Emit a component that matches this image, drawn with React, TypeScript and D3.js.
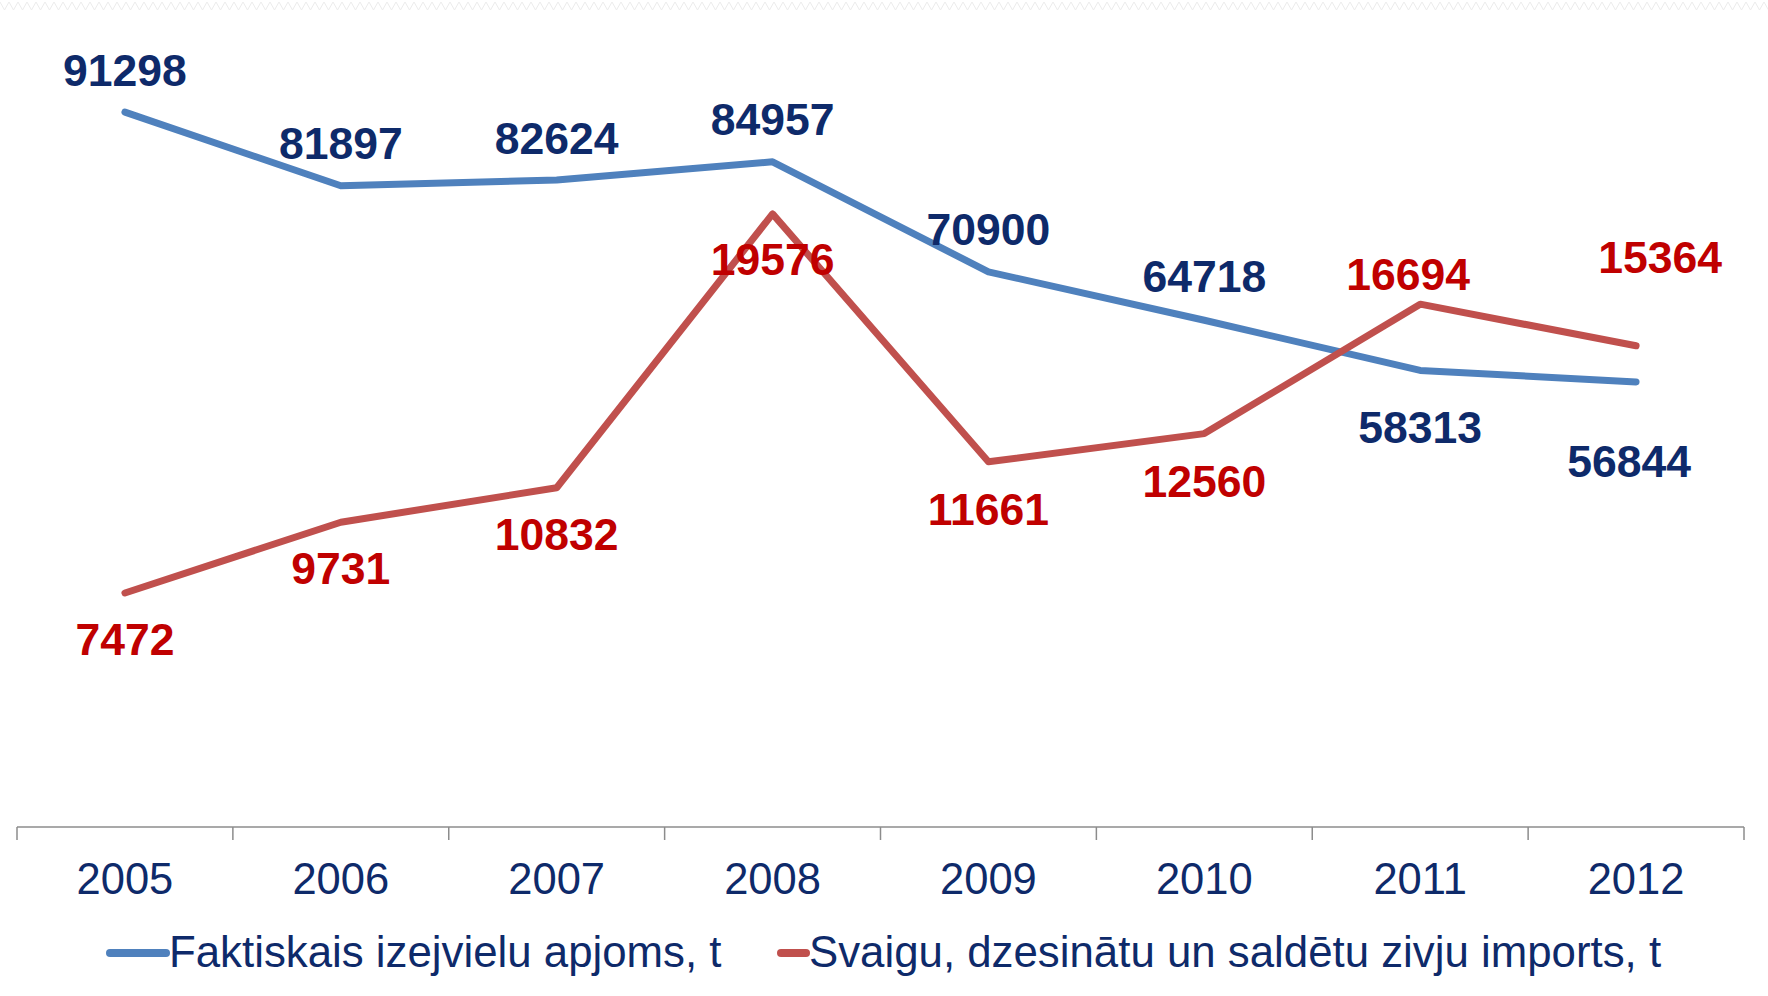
import * as d3 from "d3";
import React from "react";

const width = 1768;
const height = 996;

const years = ["2005", "2006", "2007", "2008", "2009", "2010", "2011", "2012"];
const rawMaterial = [91298, 81897, 82624, 84957, 70900, 64718, 58313, 56844];
const fishImports = [7472, 9731, 10832, 19576, 11661, 12560, 16694, 15364];
const seriesNames = [
  "Faktiskais izejvielu apjoms, t",
  "Svaigu, dzesinātu un saldētu zivju imports, t",
];

// label nudges (px) relative to each point, as placed in the original
const blueLabelOffsets = [[0, -42], [0, -43], [0, -42], [0, -43], [0, -43], [0, -44], [0, 57], [-7, 79]];
const redLabelOffsets = [[0, 46], [0, 46], [0, 46], [0, 45], [0, 47], [0, 47], [-12, -30], [24, -89]];

const plot = { left: 17, right: 1744, top: 44, bottom: 827 };
const blueLine = "#4F81BD";
const redLine = "#C0504D";
const navy = "#0E2A6A";
const darkRed = "#C00000";
const font = "Arial, 'Liberation Sans', sans-serif";

export default function App() {
  const x = d3.scaleBand().domain(years).range([plot.left, plot.right]);
  const yBlue = d3.scaleLinear().domain([0, 100000]).range([plot.bottom, plot.top]);
  const yRed = d3.scaleLinear().domain([0, 25000]).range([plot.bottom, plot.top]);
  const cx = (d: string) => (x(d) ?? 0) + x.bandwidth() / 2;

  const blueLinePath = d3.line<number>().x((_, i) => cx(years[i])).y(d => yBlue(d))(rawMaterial) ?? "";
  const redLinePath = d3.line<number>().x((_, i) => cx(years[i])).y(d => yRed(d))(fishImports) ?? "";

  // faint zig-zag border along the top edge
  const zig = d3.range(0, width + 10, 4.5).map((px, i) => [px, i % 2 === 0 ? 2 : 10] as [number, number]);
  const zigPath = d3.line()(zig) ?? "";

  const tickPositions = [...years.map(d => x(d) ?? 0), plot.right];

  return (
    <div style={{ position: "fixed", left: 0, top: 0 }}>
      <svg width={width} height={height} style={{ display: "block", background: "#fff" }}>
        <path d={zigPath} fill="none" stroke="#ececec" strokeWidth={1} />

        {/* x axis */}
        <line x1={plot.left} x2={plot.right} y1={plot.bottom} y2={plot.bottom} stroke="#8c8c8c" strokeWidth={1.5} />
        {tickPositions.map((t, i) => (
          <line key={i} x1={t} x2={t} y1={plot.bottom} y2={plot.bottom + 13} stroke="#8c8c8c" strokeWidth={1.5} />
        ))}
        {years.map(d => (
          <text key={d} x={cx(d)} y={894} textAnchor="middle" fontFamily={font} fontSize={43.5} fill={navy}>
            {d}
          </text>
        ))}

        {/* series lines */}
        <path d={blueLinePath} fill="none" stroke={blueLine} strokeWidth={7} strokeLinecap="round" strokeLinejoin="round" />
        <path d={redLinePath} fill="none" stroke={redLine} strokeWidth={7} strokeLinecap="round" strokeLinejoin="round" />

        {/* data labels */}
        {rawMaterial.map((v, i) => (
          <text
            key={"b" + i}
            x={cx(years[i]) + blueLabelOffsets[i][0]}
            y={yBlue(v) + blueLabelOffsets[i][1]}
            dy="0.36em"
            textAnchor="middle"
            fontFamily={font}
            fontSize={44.5}
            fontWeight="bold"
            fill={navy}
          >
            {v}
          </text>
        ))}
        {fishImports.map((v, i) => (
          <text
            key={"r" + i}
            x={cx(years[i]) + redLabelOffsets[i][0]}
            y={yRed(v) + redLabelOffsets[i][1]}
            dy="0.36em"
            textAnchor="middle"
            fontFamily={font}
            fontSize={44.5}
            fontWeight="bold"
            fill={darkRed}
          >
            {v}
          </text>
        ))}

        {/* legend */}
        <line x1={110} x2={166} y1={953} y2={953} stroke={blueLine} strokeWidth={8} strokeLinecap="round" />
        <text x={169} y={967} fontFamily={font} fontSize={43.8} fill={navy}>{seriesNames[0]}</text>
        <line x1={781} x2={806} y1={953} y2={953} stroke={redLine} strokeWidth={8} strokeLinecap="round" />
        <text x={809} y={967} fontFamily={font} fontSize={43.8} fill={navy}>{seriesNames[1]}</text>
      </svg>
    </div>
  );
}
